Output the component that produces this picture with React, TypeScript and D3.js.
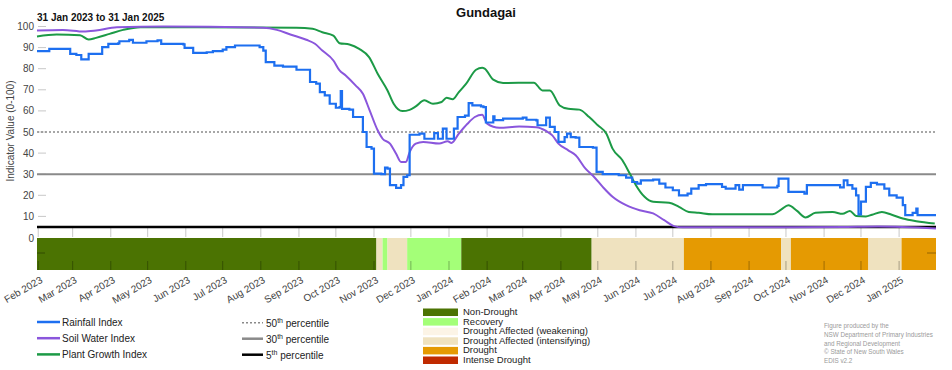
import React from 'react'
import * as d3 from 'd3'

const W = 952
const H = 370

// values (date, index value)
const rainfall: [string, number][] = [
  ['2023-01-31', 88.3], ['2023-02-08', 88.3], ['2023-02-10', 89.4], ['2023-02-26', 89.4], ['2023-02-27', 87],
  ['2023-03-04', 86.5], ['2023-03-08', 84.4], ['2023-03-12', 84.4], ['2023-03-14', 87], ['2023-03-22', 87],
  ['2023-03-25', 90.2], ['2023-03-30', 91.8], ['2023-04-07', 92], ['2023-04-08', 93], ['2023-04-16', 93.7],
  ['2023-04-19', 92.3], ['2023-04-30', 93], ['2023-05-09', 93.4], ['2023-05-12', 91.8], ['2023-05-30', 91.5],
  ['2023-05-31', 89.9], ['2023-06-07', 87.5], ['2023-06-18', 87.8], ['2023-06-23', 88.3], ['2023-07-01', 89],
  ['2023-07-04', 90.2], ['2023-07-11', 91], ['2023-07-31', 90.2], ['2023-08-03', 88.6], ['2023-08-05', 83.1],
  ['2023-08-12', 81.5], ['2023-08-19', 81], ['2023-08-30', 79.5], ['2023-09-07', 79.5], ['2023-09-10', 73.7],
  ['2023-09-15', 72.9], ['2023-09-18', 68.9], ['2023-09-22', 67.4], ['2023-09-26', 63.4], ['2023-10-01', 61.5],
  ['2023-10-04', 61.8], ['2023-10-05', 69.4], ['2023-10-06', 61], ['2023-10-12', 60.6], ['2023-10-15', 57.1],
  ['2023-10-20', 57.1], ['2023-10-23', 50], ['2023-10-26', 42.9], ['2023-10-30', 42.1], ['2023-11-01', 30.3],
  ['2023-11-07', 30], ['2023-11-10', 33.1], ['2023-11-12', 32.6], ['2023-11-14', 24.8], ['2023-11-19', 23.5],
  ['2023-11-23', 24.8], ['2023-11-25', 28.7], ['2023-11-28', 29.5], ['2023-11-30', 48.7], ['2023-12-08', 49.2],
  ['2023-12-12', 46.8], ['2023-12-19', 46.8], ['2023-12-20', 49.5], ['2023-12-23', 46.8], ['2023-12-27', 51.6],
  ['2023-12-30', 46.8], ['2024-01-03', 46.8], ['2024-01-05', 51.6], ['2024-01-08', 57.1], ['2024-01-14', 57.8],
  ['2024-01-17', 63.7], ['2024-01-20', 62.6], ['2024-01-27', 62.1], ['2024-01-29', 61.8], ['2024-01-31', 54.5],
  ['2024-02-06', 57.4], ['2024-02-07', 55.6], ['2024-02-11', 55.6], ['2024-02-14', 56.3], ['2024-03-01', 56.8],
  ['2024-03-04', 55.8], ['2024-03-12', 55.5], ['2024-03-13', 53.2], ['2024-03-19', 53.2], ['2024-03-20', 56.8],
  ['2024-03-23', 52.4], ['2024-03-27', 50], ['2024-03-30', 45.3], ['2024-04-04', 47.6], ['2024-04-06', 49.2],
  ['2024-04-09', 47.6], ['2024-04-13', 47.3], ['2024-04-16', 42.9], ['2024-04-27', 42.6], ['2024-04-30', 31.1],
  ['2024-05-05', 30], ['2024-05-18', 29.5], ['2024-05-24', 28.4], ['2024-05-29', 26.3], ['2024-06-02', 25.5],
  ['2024-06-05', 27.1], ['2024-06-15', 27.4], ['2024-06-20', 25.5], ['2024-06-25', 23.7], ['2024-07-01', 22.4],
  ['2024-07-06', 20], ['2024-07-13', 20.8], ['2024-07-16', 23.2], ['2024-07-22', 24.8], ['2024-07-28', 25.3],
  ['2024-08-10', 24], ['2024-08-13', 23.2], ['2024-08-21', 24.8], ['2024-08-24', 22.7], ['2024-08-27', 24.8],
  ['2024-09-12', 23.7], ['2024-09-24', 24.5], ['2024-09-25', 27.9], ['2024-10-02', 27.9], ['2024-10-03', 21.6],
  ['2024-10-16', 20.8], ['2024-10-18', 24.8], ['2024-11-05', 24.8], ['2024-11-14', 23.8], ['2024-11-17', 27.1],
  ['2024-11-20', 24.8], ['2024-11-24', 23.2], ['2024-11-27', 20], ['2024-11-29', 11], ['2024-12-01', 17],
  ['2024-12-05', 24], ['2024-12-09', 25.9], ['2024-12-14', 25.2], ['2024-12-20', 23.2], ['2024-12-24', 20],
  ['2024-12-30', 18.9], ['2025-01-04', 15.3], ['2025-01-06', 10.6], ['2025-01-12', 11.7], ['2025-01-15', 13.7],
  ['2025-01-16', 10.6], ['2025-01-31', 10.6],
]

const soilWater: [string, number][] = [
  ['2023-01-31', 98.1], ['2023-02-21', 98.4], ['2023-03-10', 97.6], ['2023-03-20', 98.1], ['2023-04-06', 99.7],
  ['2023-05-14', 100], ['2023-08-03', 99.4], ['2023-08-14', 98.4], ['2023-08-25', 96.2], ['2023-09-07', 93.7],
  ['2023-09-14', 91.8], ['2023-09-20', 88.6], ['2023-09-29', 83.9], ['2023-10-04', 79.2], ['2023-10-09', 76.8],
  ['2023-10-17', 72.1], ['2023-10-23', 68.1], ['2023-10-28', 61], ['2023-11-04', 50.8], ['2023-11-08', 46.8],
  ['2023-11-14', 44.5], ['2023-11-19', 39.7], ['2023-11-23', 35.8], ['2023-11-27', 35.8], ['2023-11-30', 40.5],
  ['2023-12-05', 44.5], ['2023-12-11', 45.3], ['2023-12-24', 44.5], ['2023-12-31', 45.6], ['2024-01-03', 44.8],
  ['2024-01-09', 49.2], ['2024-01-16', 53.9], ['2024-01-22', 57.1], ['2024-01-28', 58.2], ['2024-02-01', 54],
  ['2024-02-11', 52], ['2024-02-27', 52.6], ['2024-03-12', 52.3], ['2024-03-20', 50.5], ['2024-03-25', 48.4],
  ['2024-03-30', 44.5], ['2024-04-07', 41.3], ['2024-04-13', 39], ['2024-04-21', 32.6], ['2024-04-28', 28.7],
  ['2024-05-05', 24], ['2024-05-13', 19.3], ['2024-05-24', 15.3], ['2024-06-04', 12.9], ['2024-06-15', 11.4],
  ['2024-06-24', 8.2], ['2024-07-02', 5.4], ['2024-07-09', 4.8], ['2024-09-25', 4.8], ['2024-11-18', 5],
  ['2024-12-15', 5.2], ['2025-01-31', 4.3],
]

const plantGrowth: [string, number][] = [
  ['2023-01-31', 95.3], ['2023-02-16', 96.2], ['2023-03-07', 95.9], ['2023-03-14', 93.8], ['2023-03-20', 94.6],
  ['2023-03-31', 96.5], ['2023-04-11', 98.4], ['2023-04-25', 99.7], ['2023-08-30', 99.4], ['2023-09-12', 98.9],
  ['2023-09-20', 97.3], ['2023-09-29', 95.7], ['2023-10-04', 92.1], ['2023-10-12', 91.5], ['2023-10-20', 89.4],
  ['2023-10-28', 85.5], ['2023-11-04', 77.6], ['2023-11-12', 69.7], ['2023-11-17', 63.4], ['2023-11-24', 59.9],
  ['2023-11-30', 60.5], ['2023-12-05', 62.1], ['2023-12-12', 65], ['2023-12-19', 63.4], ['2023-12-26', 64.2],
  ['2023-12-30', 66.2], ['2024-01-04', 65.5], ['2024-01-09', 68.9], ['2024-01-15', 72.9], ['2024-01-23', 79.5],
  ['2024-01-28', 80.4], ['2024-01-30', 80], ['2024-02-06', 74.8], ['2024-02-14', 73.2], ['2024-03-10', 73.4],
  ['2024-03-17', 69.7], ['2024-03-23', 69.7], ['2024-03-31', 62.6], ['2024-04-07', 61], ['2024-04-16', 60.6],
  ['2024-04-24', 57.1], ['2024-05-01', 53.2], ['2024-05-08', 49.2], ['2024-05-13', 42.1], ['2024-05-21', 36.6],
  ['2024-05-27', 30.3], ['2024-06-01', 24.8], ['2024-06-08', 19.3], ['2024-06-15', 16.9], ['2024-06-28', 16.5],
  ['2024-07-06', 14.5], ['2024-07-14', 12.1], ['2024-07-22', 11.7], ['2024-08-02', 11], ['2024-09-20', 11],
  ['2024-09-27', 13.2], ['2024-10-03', 15.3], ['2024-10-10', 12.6], ['2024-10-17', 9.5], ['2024-10-25', 11.7],
  ['2024-11-08', 12.1], ['2024-11-16', 11.2], ['2024-11-22', 12.6], ['2024-11-27', 10.2], ['2024-12-05', 10],
  ['2024-12-10', 10.8], ['2024-12-18', 12.1], ['2024-12-26', 10.8], ['2025-01-04', 9], ['2025-01-15', 7.7],
  ['2025-01-30', 6.6],
]

const categories = ['Non-Drought', 'Recovery', 'Drought Affected (weakening)', 'Drought Affected (intensifying)', 'Drought', 'Intense Drought']
const categoryColors = ['#4b7302', '#a4ff78', '#fcf4e6', '#efe2bf', '#e59a02', '#c02a00']

const droughtPhases: [string, string, number][] = [
  ['2023-01-31', '2023-11-03', 0], ['2023-11-03', '2023-11-08', 3], ['2023-11-08', '2023-11-12', 1],
  ['2023-11-12', '2023-11-28', 3], ['2023-11-28', '2024-01-11', 1], ['2024-01-11', '2024-04-26', 0],
  ['2024-04-26', '2024-07-10', 3], ['2024-07-10', '2024-09-27', 4], ['2024-09-27', '2024-10-05', 3],
  ['2024-10-05', '2024-12-07', 4], ['2024-12-07', '2025-01-03', 3], ['2025-01-03', '2025-01-31', 4],
]

const yTicks = [10, 20, 30, 40, 50, 60, 70, 80, 90, 100]
const seriesNames = ['Rainfall Index', 'Soil Water Index', 'Plant Growth Index']
const seriesColors = ['#1d6ff0', '#8a56dc', '#1c9a46']
const percentileLabels = ['50', '30', '5']

const parse = d3.timeParse('%Y-%m-%d')
const font = '"Liberation Sans", Arial, sans-serif'

const App = () => {
  const x = d3.scaleTime()
    .domain([parse('2023-01-31')!, parse('2025-01-31')!])
    .range([37, 936])
  const y = d3.scaleLinear().domain([0, 100]).range([237.5, 26.5])

  const mkLine = (curve: d3.CurveFactory) => d3.line<[string, number]>()
    .x(d => x(parse(d[0])!))
    .y(d => y(d[1]))
    .curve(curve)

  const months = d3.timeMonth.range(parse('2023-02-01')!, parse('2025-01-02')!)
  const fmt = d3.timeFormat('%b %Y')
  const [x0, x1] = x.range()
  const bandTop = 238
  const bandBottom = 270

  return (
    <svg width={W} height={H} style={{ position: 'absolute', left: 0, top: 0, fontFamily: font }}>
      <rect width={W} height={H} fill="#fff" />
      <text x={486} y={17} textAnchor="middle" fontSize={13} fontWeight="bold" fill="#111">Gundagai</text>
      <text x={37} y={21} fontSize={10} fontWeight="bold" fill="#111">31 Jan 2023 to 31 Jan 2025</text>

      {/* y axis */}
      <text transform="translate(14,131) rotate(-90)" textAnchor="middle" fontSize={10} fill="#444">Indicator Value (0-100)</text>
      {yTicks.map(t => (
        <g key={t}>
          <line x1={x0 + 1} x2={x0 + 9} y1={y(t)} y2={y(t)} stroke="#c8c8c8" />
          <text x={34} y={y(t)} dy="0.35em" textAnchor="end" fontSize={10} fill="#444">{t}</text>
        </g>
      ))}
      <text x={34} y={bandTop} dy="0.35em" textAnchor="end" fontSize={10} fill="#444">0</text>

      {/* drought band */}
      {droughtPhases.map(([s, e, c], i) => (
        <rect key={i} x={x(parse(s)!)} width={x(parse(e)!) - x(parse(s)!)} y={bandTop} height={bandBottom - bandTop} fill={categoryColors[c]} />
      ))}
      <line x1={x0} x2={x0 + 8} y1={253} y2={253} stroke="rgba(0,0,0,0.35)" />
      <line x1={x1 - 9} x2={x1} y1={253} y2={253} stroke="rgba(0,0,0,0.35)" />

      {/* x ticks and labels */}
      {months.map((m, i) => {
        const xm = x(m)
        return (
          <g key={i}>
            <line x1={xm} x2={xm} y1={228} y2={237} stroke="#c8c8c8" />
            <line x1={xm} x2={xm} y1={261} y2={270} stroke="rgba(0,0,0,0.3)" />
            <text transform={`translate(${xm + 5},282) rotate(-30)`} textAnchor="end" fontSize={10} fill="#444">{fmt(m)}</text>
          </g>
        )
      })}

      {/* percentile lines */}
      <line x1={x0} x2={x1} y1={y(50)} y2={y(50)} stroke="#8a8a8a" strokeWidth={1.5} strokeDasharray="2,2" />
      <line x1={x0} x2={x1} y1={y(30)} y2={y(30)} stroke="#8a8a8a" strokeWidth={2} />
      <line x1={x0} x2={x1} y1={y(5)} y2={y(5)} stroke="#000" strokeWidth={2.5} />

      {/* series */}
      <path d={mkLine(d3.curveMonotoneX)(plantGrowth)!} fill="none" stroke={seriesColors[2]} strokeWidth={2} />
      <path d={mkLine(d3.curveMonotoneX)(soilWater)!} fill="none" stroke={seriesColors[1]} strokeWidth={2} />
      <path d={mkLine(d3.curveStepAfter)(rainfall)!} fill="none" stroke={seriesColors[0]} strokeWidth={2.2} />

      {/* series legend */}
      {seriesNames.map((n, i) => (
        <g key={n} transform={`translate(0,${322 + i * 16.2})`}>
          <line x1={37} x2={60} y1={0} y2={0} stroke={seriesColors[i]} strokeWidth={2.5} />
          <text x={62} y={3.5} fontSize={10} fill="#222">{n}</text>
        </g>
      ))}

      {/* percentile legend */}
      {percentileLabels.map((p, i) => (
        <g key={p} transform={`translate(0,${322.7 + i * 16})`}>
          <line x1={242} x2={263} y1={0} y2={0}
            stroke={i === 2 ? '#000' : '#8a8a8a'}
            strokeWidth={i === 0 ? 1.5 : 2.5}
            strokeDasharray={i === 0 ? '2,2' : undefined} />
          <text x={266} y={3.8} fontSize={10} fill="#222">
            {p}<tspan dy={-4} fontSize={7}>th</tspan><tspan dy={4}> percentile</tspan>
          </text>
        </g>
      ))}

      {/* drought category legend */}
      {categories.map((c, i) => (
        <g key={c} transform={`translate(0,${315 + i * 9.6})`}>
          <rect x={423} y={-6.5} width={35} height={7.5} fill={categoryColors[i]} />
          <text x={463} y={0} fontSize={9.5} fill="#222">{c}</text>
        </g>
      ))}

      {/* credits */}
      {['Figure produced by the', 'NSW Department of Primary Industries', 'and Regional Development', '\u00a9 State of New South Wales', 'EDIS v2.2'].map((t, i) => (
        <text key={i} x={824} y={328 + i * 8.8} fontSize={6.3} fill="#9a9a9a">{t}</text>
      ))}
    </svg>
  )
}

export default App
